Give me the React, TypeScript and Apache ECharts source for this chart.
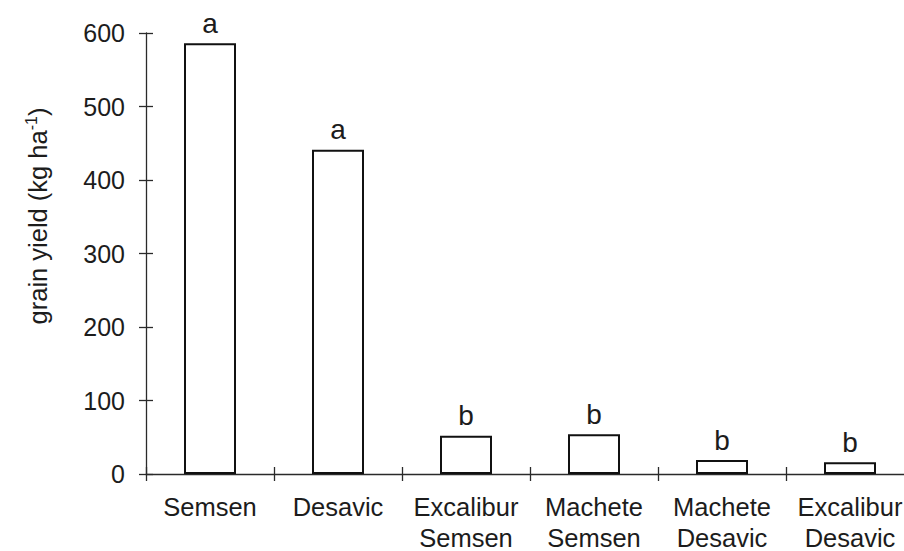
import React, { useEffect, useRef } from "react";
import * as echarts from "echarts";

// Cultivar / host combinations along the x axis
const categories = [
  "Semsen",
  "Desavic",
  "Excalibur\nSemsen",
  "Machete\nSemsen",
  "Machete\nDesavic",
  "Excalibur\nDesavic",
];

// Mean grain yield (kg ha-1)
const yieldValues = [586, 441, 52, 54, 19, 16];

// Significance letters above each bar
const groupLetters = ["a", "a", "b", "b", "b", "b"];

const yTicks = [0, 100, 200, 300, 400, 500, 600];

const FONT = "'Liberation Sans', Arial, Helvetica, sans-serif";
const INK = "#1c1c1c";
const LINE = "#2a2a2a";

export default function App() {
  const ref = useRef<HTMLDivElement>(null);

  useEffect(() => {
    if (!ref.current) return;
    const chart = echarts.init(ref.current, null, { renderer: "svg" });

    const yMin = yTicks[0];
    const yMax = yTicks[yTicks.length - 1];
    const yStep = yTicks[1] - yTicks[0];

    chart.setOption({
      animation: false,
      backgroundColor: "#ffffff",
      textStyle: { fontFamily: FONT },
      grid: {
        left: 146,
        right: -10,
        top: 33,
        bottom: 77,
        containLabel: false,
        outerBoundsMode: "none",
      },
      xAxis: [
        {
          type: "category",
          data: categories,
          boundaryGap: true,
          axisLine: { show: true, lineStyle: { color: LINE, width: 1.3 } },
          axisTick: {
            show: true,
            length: 7,
            alignWithLabel: false,
            lineStyle: { color: LINE, width: 1.3 },
          },
          axisLabel: {
            color: INK,
            fontFamily: FONT,
            fontSize: 25.5,
            lineHeight: 31,
            margin: 17,
            interval: 0,
          },
          splitLine: { show: false },
        },
        {
          // inner half of the crossing ticks
          type: "category",
          data: categories,
          boundaryGap: true,
          position: "bottom",
          axisLine: { show: false },
          axisTick: {
            show: true,
            inside: true,
            length: 7,
            lineStyle: { color: LINE, width: 1.3 },
          },
          axisLabel: { show: false },
          splitLine: { show: false },
        },
      ],
      yAxis: [
        {
          type: "value",
          min: yMin,
          max: yMax,
          interval: yStep,
          axisLine: { show: true, lineStyle: { color: LINE, width: 1.3 } },
          axisTick: { show: true, length: 7, lineStyle: { color: LINE, width: 1.3 } },
          axisLabel: {
            color: INK,
            fontFamily: FONT,
            fontSize: 25,
            margin: 21,
          },
          splitLine: { show: false },
        },
        {
          type: "value",
          min: yMin,
          max: yMax,
          interval: yStep,
          position: "left",
          axisLine: { show: false },
          axisTick: {
            show: true,
            inside: true,
            length: 7,
            lineStyle: { color: LINE, width: 1.3 },
          },
          axisLabel: { show: false },
          splitLine: { show: false },
        },
      ],
      series: [
        {
          type: "bar",
          xAxisIndex: 0,
          yAxisIndex: 0,
          barWidth: 52,
          data: yieldValues.map((v, i) => ({
            value: v,
            label: { formatter: groupLetters[i] },
          })),
          itemStyle: {
            color: "#ffffff",
            borderColor: "#111111",
            borderWidth: 2,
          },
          label: {
            show: true,
            position: "top",
            distance: 6,
            color: INK,
            fontFamily: FONT,
            fontSize: 28,
          },
        },
      ],
      graphic: [
        {
          type: "text",
          x: 38,
          y: 216,
          rotation: Math.PI / 2,
          style: {
            text: "{m|grain yield (kg ha}{s|-1}{m|)}",
            align: "center",
            verticalAlign: "middle",
            fill: INK,
            fontFamily: FONT,
            rich: {
              m: { fontSize: 25.5, fontFamily: FONT, fill: INK, color: INK },
              s: {
                fontSize: 16,
                fontFamily: FONT,
                fill: INK,
                color: INK,
                padding: [0, 0, 13, 0],
              },
            },
          },
        },
      ],
    });

    return () => chart.dispose();
  }, []);

  return (
    <div
      ref={ref}
      style={{ width: 904, height: 551, position: "absolute", left: 0, top: 0 }}
    />
  );
}
